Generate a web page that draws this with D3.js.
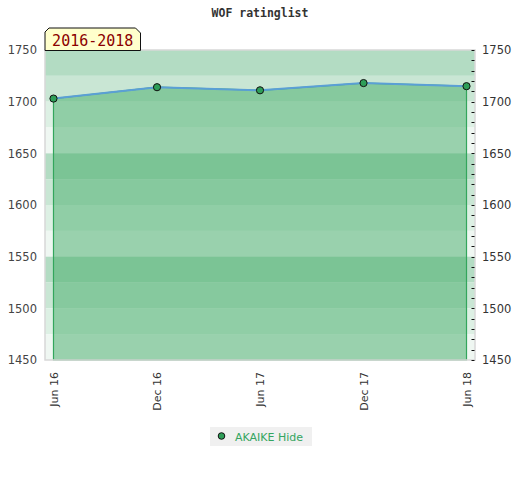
<!DOCTYPE html>
<html>
<head>
<meta charset="utf-8">
<script src="https://cdn.jsdelivr.net/npm/d3@7"></script>
<style>
  html, body { margin: 0; padding: 0; background: #fff; }
  svg { display: block; }
</style>
</head>
<body>
<svg id="chart" width="520" height="480"></svg>
<script>
// ---- data ----
const dates = ["2016-06-01", "2016-12-01", "2017-06-01", "2017-12-01", "2018-06-01"];
const ratings = [1703, 1714, 1711, 1718, 1715];
const seriesName = "AKAIKE Hide";
const title = "WOF ratinglist";
const periodLabel = "2016-2018";
const yTicks = [1450, 1500, 1550, 1600, 1650, 1700, 1750];

// ---- layout ----
const plot = { left: 45, right: 475, top: 50, bottom: 360 };
const parse = d3.timeParse("%Y-%m-%d");
const pts = dates.map((d, i) => ({ date: parse(d), value: ratings[i] }));

const svg = d3.select("#chart");

const first = pts[0].date, last = pts[pts.length - 1].date;
const pad = 15 * 24 * 3600 * 1000;
const x = d3.scaleTime()
  .domain([new Date(+first - pad), new Date(+last + pad)])
  .range([plot.left, plot.right]);
const y = d3.scaleLinear()
  .domain([1450, 1750])
  .range([plot.bottom, plot.top]);

// background bands (25 rating each), 4-colour cycle from the top
const bandColors = ["#b3dcc3", "#c9e6d4", "#ddf0e4", "#eff7f2"];
const bandEdges = d3.range(1750, 1450, -25);
svg.append("g").selectAll("rect")
  .data(bandEdges)
  .join("rect")
  .attr("x", plot.left)
  .attr("width", plot.right - plot.left)
  .attr("y", d => y(d))
  .attr("height", d => y(d - 25) - y(d))
  .attr("fill", (d, i) => bandColors[i % 4]);

// area
const area = d3.area()
  .x(d => x(d.date))
  .y0(y(1450))
  .y1(d => y(d.value));
svg.append("path")
  .datum(pts)
  .attr("d", area)
  .attr("fill", "rgb(67,172,103)")
  .attr("fill-opacity", 0.5)
  .attr("stroke", "#33a65c")
  .attr("stroke-width", 1.2);

// line
const line = d3.line()
  .x(d => x(d.date))
  .y(d => y(d.value));
svg.append("path")
  .datum(pts)
  .attr("d", line)
  .attr("fill", "none")
  .attr("stroke", "#5b9fd6")
  .attr("stroke-width", 2);

// plot border
svg.append("rect")
  .attr("x", plot.left).attr("y", plot.top)
  .attr("width", plot.right - plot.left)
  .attr("height", plot.bottom - plot.top)
  .attr("fill", "none")
  .attr("stroke", "#d8d8d8")
  .attr("stroke-width", 1.5);

// points
svg.append("g").selectAll("circle")
  .data(pts)
  .join("circle")
  .attr("cx", d => x(d.date))
  .attr("cy", d => y(d.value))
  .attr("r", 3.6)
  .attr("fill", "#2e9e58")
  .attr("stroke", "#111")
  .attr("stroke-width", 1);

// right minor ticks (every 10)
const minor = d3.range(1450, 1751, 10);
svg.append("g").selectAll("line")
  .data(minor)
  .join("line")
  .attr("x1", plot.right - 3.5).attr("x2", plot.right - 0.5)
  .attr("y1", d => Math.round(y(d)) + 0.5)
  .attr("y2", d => Math.round(y(d)) + 0.5)
  .attr("stroke", "#111")
  .attr("stroke-width", 1);

const fmt = d3.format("d");

// left axis labels
const yLeft = d3.axisLeft(y).tickValues(yTicks).tickFormat(fmt).tickSize(0).tickPadding(8);
const gl = svg.append("g").attr("transform", `translate(${plot.left},0)`).call(yLeft);
gl.select(".domain").remove();
gl.selectAll("text")
  .attr("font-family", "DejaVu Sans, Verdana, sans-serif")
  .attr("font-size", "11.5px")
  .attr("fill", "#444");

// right axis labels
const yRight = d3.axisRight(y).tickValues(yTicks).tickFormat(fmt).tickSize(0).tickPadding(7);
const gr = svg.append("g").attr("transform", `translate(${plot.right},0)`).call(yRight);
gr.select(".domain").remove();
gr.selectAll("text")
  .attr("font-family", "DejaVu Sans, Verdana, sans-serif")
  .attr("font-size", "11.5px")
  .attr("fill", "#333");

// x axis labels (rotated)
const xAxis = d3.axisBottom(x)
  .tickValues(pts.map(d => d.date))
  .tickFormat(d3.timeFormat("%b %y"))
  .tickSize(0);
const gx = svg.append("g").attr("transform", `translate(0,${plot.bottom})`).call(xAxis);
gx.select(".domain").remove();
gx.selectAll("text")
  .attr("font-family", "DejaVu Sans, Verdana, sans-serif")
  .attr("font-size", "11px")
  .attr("fill", "#333")
  .attr("text-anchor", "end")
  .attr("transform", "rotate(-90)")
  .attr("x", -12)
  .attr("y", 0)
  .attr("dy", "0.35em");

// title
svg.append("text")
  .attr("x", 260).attr("y", 17)
  .attr("text-anchor", "middle")
  .attr("font-family", "DejaVu Sans Mono, monospace")
  .attr("font-weight", "bold")
  .attr("font-size", "11.5px")
  .attr("fill", "#333")
  .text(title);

// period label box
const bx0 = 45, bx1 = 140.5, by0 = 28, by1 = 50.5;
svg.append("path")
  .attr("d", `M${bx0},${by1} L${bx0},${by0 + 4} L${bx0 + 4},${by0} L${bx1 - 5},${by0} L${bx1},${by0 + 5} L${bx1},${by1} Z`)
  .attr("fill", "#ffffcc")
  .attr("stroke", "#111")
  .attr("stroke-width", 1);
svg.append("text")
  .attr("x", (bx0 + bx1) / 2).attr("y", 45.5)
  .attr("text-anchor", "middle")
  .attr("font-family", "DejaVu Sans Mono, monospace")
  .attr("font-size", "15px")
  .attr("fill", "#8b0000")
  .text(periodLabel);

// legend
const lg = svg.append("g");
lg.append("rect")
  .attr("x", 210).attr("y", 427)
  .attr("width", 102).attr("height", 19)
  .attr("fill", "#f0f0f0");
lg.append("circle")
  .attr("cx", 221.5).attr("cy", 436)
  .attr("r", 3.3)
  .attr("fill", "#2e9e58")
  .attr("stroke", "#111")
  .attr("stroke-width", 1);
lg.append("text")
  .attr("x", 235).attr("y", 440.5)
  .attr("font-family", "DejaVu Sans, Verdana, sans-serif")
  .attr("font-size", "11px")
  .attr("fill", "#34a560")
  .text(seriesName);
</script>
</body>
</html>
